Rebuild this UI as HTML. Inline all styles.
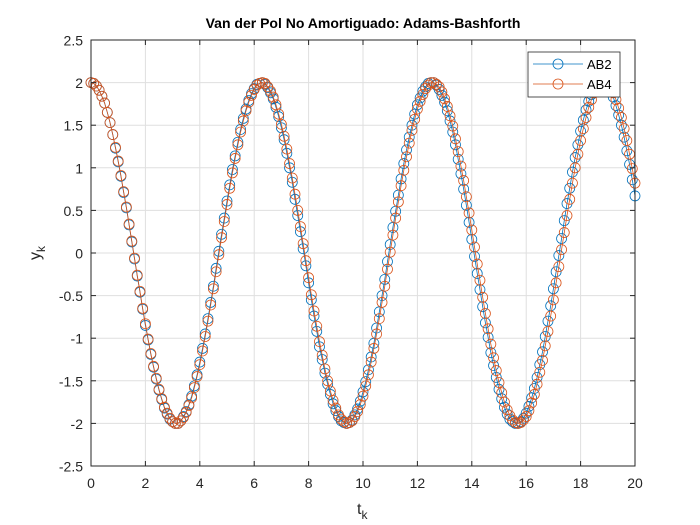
<!DOCTYPE html>
<html><head><meta charset="utf-8"><style>
body{margin:0;background:#fff;}
svg{display:block;font-family:"Liberation Sans",sans-serif;}
</style></head><body>
<svg id="chart" width="700" height="525" viewBox="0 0 700 525" xmlns="http://www.w3.org/2000/svg">
<rect x="0" y="0" width="700" height="525" fill="#fff"/>
<rect x="91" y="40" width="544" height="426" fill="#fff"/>
<g id="grid"></g>
<g id="series"></g>
<rect x="91" y="40" width="544" height="426" fill="none" stroke="#262626" stroke-width="1"/>
<g id="ticks"></g>
<text x="363" y="28" text-anchor="middle" font-size="14" font-weight="bold" fill="#000">Van der Pol No Amortiguado: Adams-Bashforth</text>
<text x="357" y="514" font-size="16" fill="#262626">t<tspan font-size="12" dy="5">k</tspan></text>
<text transform="translate(40,260) rotate(-90)" font-size="16" fill="#262626">y<tspan font-size="12" dy="5">k</tspan></text>
<g>
<rect x="528" y="52" width="92" height="45" fill="#fff" stroke="#262626" stroke-width="0.8"/>
<g>
<line x1="533" y1="64" x2="583" y2="64" stroke="#0072BD" stroke-width="0.8"/>
<circle cx="558" cy="64" r="5" fill="none" stroke="#0072BD" stroke-width="0.8"/>
<text x="587" y="69" font-size="13" fill="#000">AB2</text></g>
<g>
<line x1="533" y1="84" x2="583" y2="84" stroke="#D95319" stroke-width="0.8"/>
<circle cx="558" cy="84" r="5" fill="none" stroke="#D95319" stroke-width="0.8"/>
<text x="587" y="89" font-size="13" fill="#000">AB4</text></g>
</g>
</svg>
<script>
const tStep = 0.1;
const ab2 = [2.00,1.99,1.96,1.91,1.84,1.76,1.65,1.53,1.39,1.23,1.07,0.90,0.71,0.53,0.33,0.13,-0.07,-0.27,-0.46,-0.66,-0.85,-1.02,-1.19,-1.34,-1.48,-1.61,-1.72,-1.82,-1.89,-1.95,-1.98,-2.00,-2.00,-1.97,-1.92,-1.86,-1.78,-1.68,-1.56,-1.43,-1.28,-1.12,-0.95,-0.77,-0.58,-0.39,-0.18,0.02,0.22,0.41,0.61,0.80,0.98,1.14,1.30,1.45,1.58,1.69,1.79,1.87,1.93,1.98,1.99,2.00,1.98,1.94,1.88,1.81,1.71,1.60,1.47,1.33,1.17,1.00,0.83,0.63,0.44,0.25,0.05,-0.15,-0.35,-0.55,-0.74,-0.92,-1.10,-1.25,-1.41,-1.54,-1.66,-1.77,-1.85,-1.92,-1.97,-1.99,-2.00,-1.99,-1.96,-1.90,-1.83,-1.74,-1.63,-1.51,-1.37,-1.22,-1.06,-0.88,-0.69,-0.50,-0.31,-0.10,0.10,0.30,0.49,0.68,0.87,1.05,1.21,1.36,1.50,1.63,1.74,1.82,1.90,1.95,1.99,2.00,2.00,1.97,1.92,1.85,1.77,1.67,1.55,1.42,1.27,1.10,0.93,0.75,0.56,0.36,0.16,-0.04,-0.24,-0.43,-0.63,-0.82,-0.99,-1.17,-1.32,-1.46,-1.60,-1.71,-1.81,-1.89,-1.95,-1.98,-2.00,-2.00,-1.98,-1.94,-1.88,-1.80,-1.70,-1.59,-1.46,-1.31,-1.16,-0.98,-0.80,-0.62,-0.42,-0.22,-0.03,0.17,0.38,0.58,0.76,0.95,1.12,1.27,1.43,1.56,1.68,1.78,1.86,1.93,1.98,2.00,2.00,1.99,1.95,1.90,1.83,1.73,1.62,1.50,1.36,1.20,1.04,0.86,0.67];
const ab4 = [2.00,1.99,1.96,1.91,1.84,1.76,1.65,1.53,1.39,1.24,1.08,0.91,0.72,0.54,0.34,0.14,-0.06,-0.26,-0.45,-0.65,-0.83,-1.01,-1.18,-1.33,-1.47,-1.60,-1.71,-1.81,-1.88,-1.94,-1.98,-2.00,-2.00,-1.97,-1.93,-1.87,-1.79,-1.70,-1.58,-1.45,-1.31,-1.15,-0.98,-0.80,-0.61,-0.42,-0.22,-0.02,0.18,0.37,0.57,0.76,0.94,1.11,1.27,1.42,1.55,1.67,1.77,1.85,1.92,1.97,1.99,2.00,1.99,1.95,1.90,1.83,1.74,1.63,1.51,1.37,1.22,1.05,0.88,0.69,0.50,0.31,0.11,-0.09,-0.29,-0.49,-0.68,-0.86,-1.04,-1.20,-1.36,-1.50,-1.62,-1.73,-1.82,-1.90,-1.95,-1.98,-2.00,-1.99,-1.97,-1.92,-1.86,-1.78,-1.68,-1.56,-1.43,-1.28,-1.12,-0.95,-0.77,-0.58,-0.39,-0.19,0.01,0.21,0.41,0.60,0.79,0.97,1.13,1.29,1.44,1.57,1.69,1.78,1.86,1.93,1.97,2.00,2.00,1.98,1.95,1.89,1.81,1.72,1.61,1.49,1.34,1.19,1.02,0.85,0.66,0.47,0.27,0.07,-0.13,-0.32,-0.52,-0.71,-0.89,-1.07,-1.23,-1.38,-1.52,-1.64,-1.75,-1.84,-1.91,-1.96,-1.99,-2.00,-1.99,-1.96,-1.92,-1.85,-1.76,-1.66,-1.54,-1.40,-1.26,-1.09,-0.92,-0.74,-0.55,-0.35,-0.16,0.04,0.24,0.44,0.63,0.82,1.00,1.16,1.32,1.46,1.59,1.71,1.80,1.88,1.94,1.98,2.00,2.00,1.98,1.94,1.88,1.80,1.70,1.59,1.46,1.32,1.16,0.99,0.82];
const xTicks = [0,2,4,6,8,10,12,14,16,18,20];
const yTicks = [-2.5,-2,-1.5,-1,-0.5,0,0.5,1,1.5,2,2.5];

const NS = "http://www.w3.org/2000/svg";
const X0=91, X1=635, Y0=466, Y1=40;
function xs(v){return X0+(v-0)/(20-0)*(X1-X0);}
function ys(v){return Y0-(v+2.5)/5*(Y0-Y1);}
function mk(tag, attrs, parent){const e=document.createElementNS(NS,tag);for(const k in attrs)e.setAttribute(k,attrs[k]);parent.appendChild(e);return e;}

const grid=document.getElementById('grid'), ticks=document.getElementById('ticks'), series=document.getElementById('series');
xTicks.forEach(v=>{
  const g=mk('line',{x1:xs(v),x2:xs(v),y1:Y1,y2:Y0,stroke:'#dfdfdf','stroke-width':1},grid);
  
  
  mk('line',{x1:xs(v),x2:xs(v),y1:Y0,y2:Y0-5,stroke:'#262626'},ticks);
  mk('line',{x1:xs(v),x2:xs(v),y1:Y1,y2:Y1+5,stroke:'#262626'},ticks);
  const t=mk('text',{x:xs(v),y:Y0+22,'text-anchor':'middle','font-size':14,fill:'#262626'},ticks);
  t.textContent=String(v);
  
  
});
yTicks.forEach(v=>{
  const g=mk('line',{x1:X0,x2:X1,y1:ys(v),y2:ys(v),stroke:'#dfdfdf','stroke-width':1},grid);
  
  
  mk('line',{x1:X0,x2:X0+5,y1:ys(v),y2:ys(v),stroke:'#262626'},ticks);
  mk('line',{x1:X1,x2:X1-5,y1:ys(v),y2:ys(v),stroke:'#262626'},ticks);
  const t=mk('text',{x:X0-8,y:ys(v)+5.5,'text-anchor':'end','font-size':14,fill:'#262626'},ticks);
  t.textContent=String(v);
  
  
});
function drawSeries(vals,color,name){
  const g=mk('g',{},series);
  
  
  const pts=vals.map((v,i)=>xs(i*tStep).toFixed(2)+','+ys(v).toFixed(2)).join(' ');
  const pl=mk('polyline',{points:pts,fill:'none',stroke:color,'stroke-width':0.8},g);
  
  
  vals.forEach((v,i)=>{
    const c=mk('circle',{cx:xs(i*tStep),cy:ys(v),r:5,fill:'none',stroke:color,'stroke-width':0.8},g);
    
    
  });
}
drawSeries(ab2,'#0072BD','series-ab2');
drawSeries(ab4,'#D95319','series-ab4');
</script>
</body></html>
